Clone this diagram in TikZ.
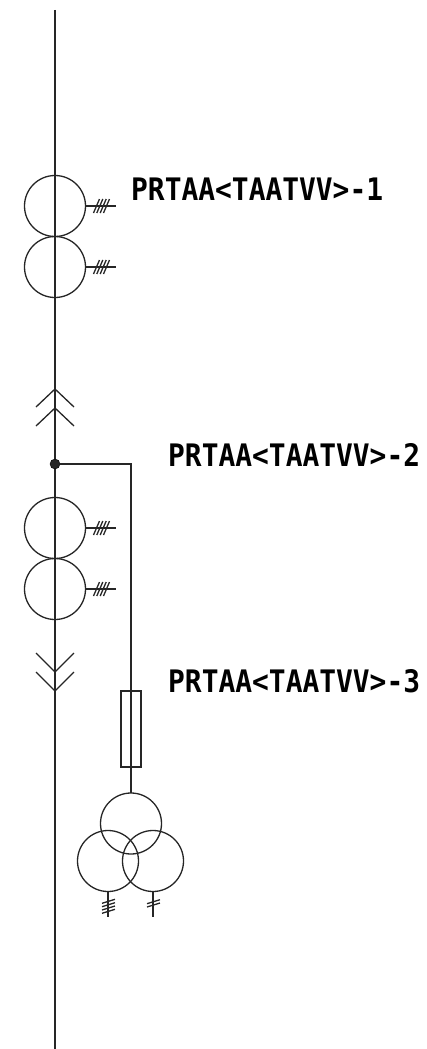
\documentclass[tikz,border=0pt]{standalone}
\usepackage{fontspec}
\setmainfont{DejaVu Sans Mono}
\usetikzlibrary{positioning}

\tikzset{
  wire/.style={line width=1.3pt,draw=black!85},
  coil/.style={circle,draw=black!85,line width=1.3pt,minimum size=61pt,inner sep=0pt,outer sep=0pt},
  junct/.style={circle,fill=black!85,draw=black,minimum size=10pt,inner sep=0pt},
  fusebox/.style={rectangle,draw=black!85,line width=1.3pt,minimum width=20pt,minimum height=76pt,inner sep=0pt},
  tag/.style={anchor=west,inner sep=0pt,font=\bfseries\fontsize{31pt}{31pt}\selectfont,xscale=0.90},
}

\begin{document}
\begin{tikzpicture}[x=1pt,y=-1pt]
    \useasboundingbox (0,0) rectangle (426,1049);

    % bus line ends
    \coordinate (top) at (55,10);
    \coordinate (bot) at (55,1049);
    \draw[wire] (top) -- (bot);

    % current transformers
    \node[coil] (ct1a) at (55,206) {};
    \node[coil] (ct1b) [below=0pt of ct1a] {};
    \node[coil] (ct2a) at (55,528) {};
    \node[coil] (ct2b) [below=0pt of ct2a] {};

    % secondary stubs
    \foreach \c in {ct1a,ct1b,ct2a,ct2b} {
      \coordinate (\c s) at ([xshift=30pt]\c.east);
      \draw[wire] (\c.east) -- (\c s);
      \foreach \d in {-19,-15.7,-12.3,-9}
        \draw[wire] ([xshift=\d pt-3pt,yshift=-7pt]\c s) -- ([xshift=\d pt+3pt,yshift=7pt]\c s);
    }

    % disconnect chevrons
    \foreach \a in {389,408}
      \draw[wire] (36,\a+18) -- (55,\a) -- (74,\a+18);
    \foreach \a in {672,691}
      \draw[wire] (36,\a-19) -- (55,\a) -- (74,\a-19);

    % branch to the voltage transformer
    \node[junct] (tap) at (55,464) {};
    \node[fusebox] (fuse) at (131,729) {};
    \node[coil] (vtop) at (131,823.5) {};
    \node[coil] (vleft) at (108,861) {};
    \node[coil] (vright) at (153,861) {};
    \draw[wire] (tap) -| (vtop.north);

    % windings
    \coordinate (lend) at (108,917);
    \coordinate (rend) at (153,917);
    \draw[wire] (vleft.south) -- (lend);
    \draw[wire] (vright.south) -- (rend);
    \foreach \y in {901.3,904.7,908,911.3}
      \draw[wire] (102,\y+2) -- (115,\y-2);
    \foreach \y in {901.7,905}
      \draw[wire] (147,\y+2) -- (160,\y-2);

    \node[tag] (lab1) at (131,189) {PRTAA<TAATVV>-1};
    \node[tag] (lab2) at (168,455) {PRTAA<TAATVV>-2};
    \node[tag] (lab3) at (168,681) {PRTAA<TAATVV>-3};
\end{tikzpicture}
\end{document}
